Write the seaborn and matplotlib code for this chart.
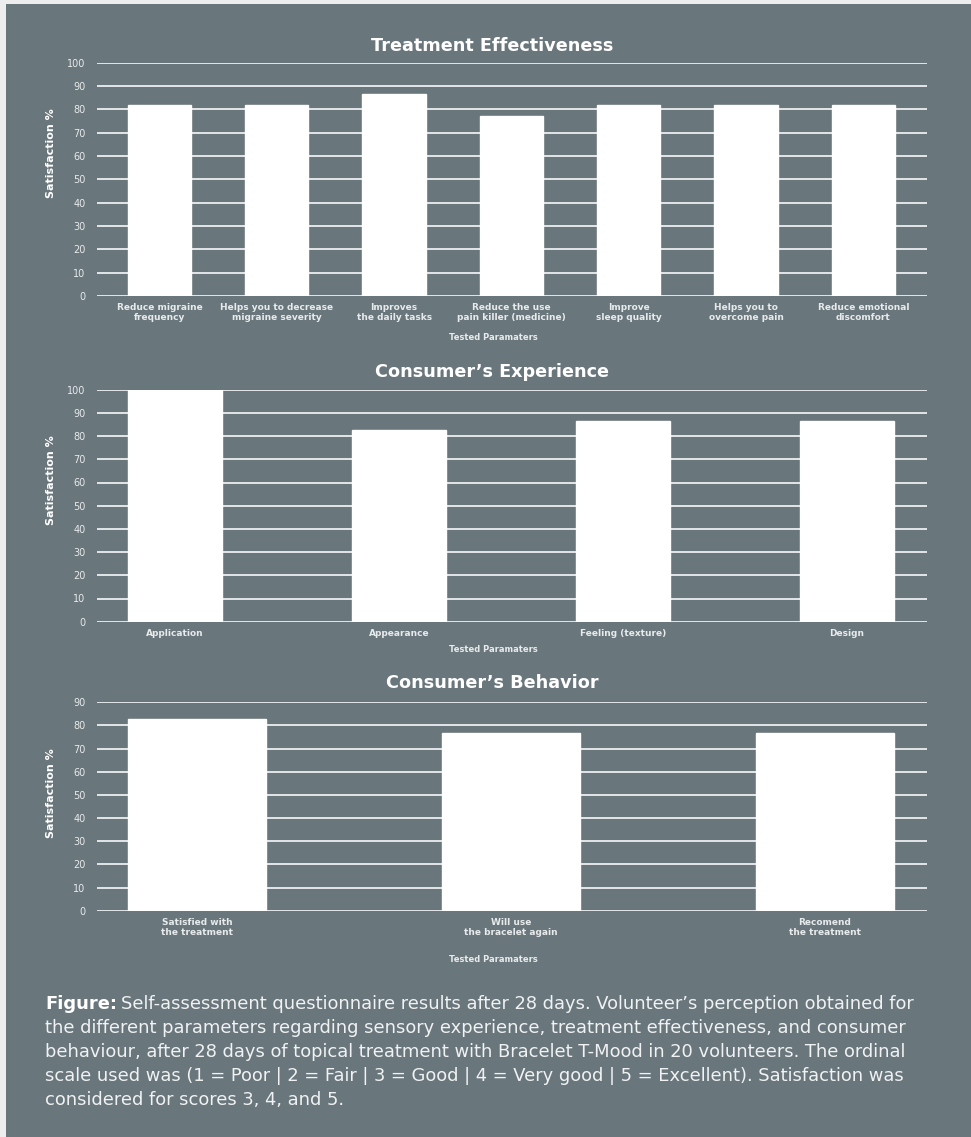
import matplotlib
matplotlib.use("Agg")
import matplotlib.pyplot as plt
import seaborn as sns
import pandas as pd
from matplotlib.patches import Rectangle

# data
effect_cats = ["Reduce migraine\nfrequency", "Helps you to decrease\nmigraine severity",
               "Improves\nthe daily tasks", "Reduce the use\npain killer (medicine)",
               "Improve\nsleep quality", "Helps you to\novercome pain",
               "Reduce emotional\ndiscomfort"]
effect_vals = [81.8, 81.8, 86.4, 77.3, 81.8, 81.8, 81.8]

exp_cats = ["Application", "Appearance", "Feeling (texture)", "Design"]
exp_vals = [100, 82.5, 86.4, 86.4]

behav_cats = ["Satisfied with\nthe treatment", "Will use\nthe bracelet again",
              "Recomend\nthe treatment"]
behav_vals = [82.7, 76.8, 76.8]

titles = ["Treatment Effectiveness", "Consumer\u2019s Experience", "Consumer\u2019s Behavior"]

BG = "#69767c"
FG = "#ffffff"
GRID = "#e4e7e8"

sns.set_style("white")
plt.rcParams["font.family"] = ["DejaVu Sans"]

W, H = 971, 1137
fig = plt.figure(figsize=(W / 100, H / 100), dpi=100, facecolor="#eeeeee")
fig.patches.append(Rectangle((6 / W, 0), 1, 1 - 4 / H, transform=fig.transFigure,
                             facecolor=BG, edgecolor="none", zorder=-10))


def px(x, y):
    return x / W, 1 - y / H


# axes boxes in pixels: top(pixel of ymax), bottom(pixel of 0)
panels = [
    dict(cats=effect_cats, vals=effect_vals, top=62.7, bot=296, ymax=100,
         width=0.54, xlim=(-0.529, 6.539), title_y=46, ylab_y=153, xlab_y=338),
    dict(cats=exp_cats, vals=exp_vals, top=389.7, bot=621.7, ymax=100,
         width=0.42, xlim=(-0.347, 3.356), title_y=372, ylab_y=480, xlab_y=650),
    dict(cats=behav_cats, vals=behav_vals, top=702.3, bot=910.7, ymax=90,
         width=0.44, xlim=(-0.317, 2.324), title_y=683, ylab_y=793, xlab_y=959),
]

left, right = 97.3, 926.7
for p, title in zip(panels, titles):
    ax = fig.add_axes([left / W, 1 - p["bot"] / H, (right - left) / W, (p["bot"] - p["top"]) / H])
    ax.set_facecolor("none")
    df = pd.DataFrame({"param": p["cats"], "value": p["vals"]})
    sns.barplot(data=df, x="param", y="value", color=FG, saturation=1,
                width=p["width"], ax=ax, zorder=3)
    ax.set_xlim(*p["xlim"])
    ax.set_ylim(0, p["ymax"])
    ax.set_yticks(range(0, p["ymax"] + 1, 10))
    ax.yaxis.grid(True, color=GRID, linewidth=1.4)
    ax.set_axisbelow(True)
    for s in ax.spines.values():
        s.set_visible(False)
    ax.tick_params(axis="y", length=0, pad=8.5, labelsize=7, labelcolor="#e8ebec")
    ax.tick_params(axis="x", length=0, pad=5, labelsize=6.5, labelcolor="#e8ebec")
    for lab in ax.get_xticklabels():
        lab.set_fontweight("bold")
        lab.set_linespacing(1.2)
    ax.set_xlabel("")
    ax.set_ylabel("")

    fig.text(*px(492, p["title_y"]), title, ha="center", va="center",
             fontsize=12.7, fontweight="bold", color=FG)
    fig.text(*px(51, p["ylab_y"]), "Satisfaction %", ha="center", va="center",
             rotation=90, fontsize=8, fontweight="bold", color=FG)
    fig.text(*px(493, p["xlab_y"]), "Tested Paramaters", ha="center", va="center",
             fontsize=6, fontweight="bold", color="#e8ebec")

# caption
cap_size = 12.9
bold = fig.text(*px(45, 1004), "Figure:", ha="left", va="center",
                fontsize=cap_size, fontweight="bold", color=FG)
fig.canvas.draw()
bb = bold.get_window_extent(renderer=fig.canvas.get_renderer())
fig.text(bb.x1 / W + 4 / W, 1 - 1004 / H,
         "Self-assessment questionnaire results after 28 days. Volunteer\u2019s perception obtained for",
         ha="left", va="center", fontsize=cap_size, color="#f0f2f3")
rest = ["the different parameters regarding sensory experience, treatment effectiveness, and consumer",
        "behaviour, after 28 days of topical treatment with Bracelet T-Mood in 20 volunteers. The ordinal",
        "scale used was (1 = Poor | 2 = Fair | 3 = Good | 4 = Very good | 5 = Excellent). Satisfaction was",
        "considered for scores 3, 4, and 5."]
for i, line in enumerate(rest):
    fig.text(*px(45, 1028 + 24 * i), line, ha="left", va="center",
             fontsize=cap_size, color="#f0f2f3")

fig.savefig("out.png", dpi=100, facecolor=fig.get_facecolor())
